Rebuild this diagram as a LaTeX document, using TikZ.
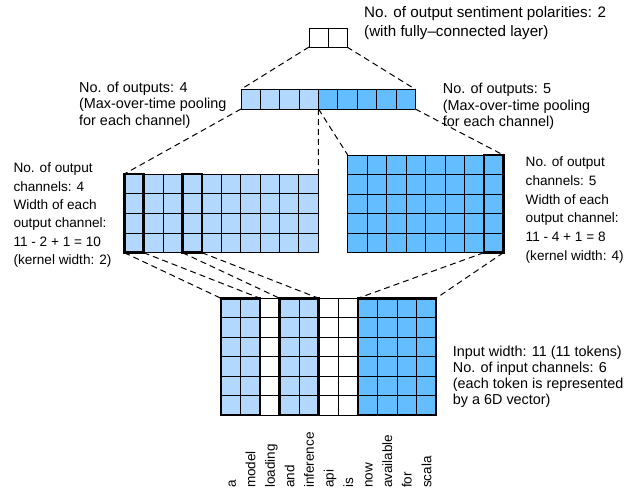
\documentclass[tikz,border=0pt]{standalone}
\usepackage{fontspec}
\setmainfont{Liberation Sans}
\definecolor{lightblue}{RGB}{178,216,254}
\definecolor{darkblue}{RGB}{100,189,255}
\begin{document}
\begin{tikzpicture}[x=1pt,y=-1pt,
  gridline/.style={line width=0.9pt},
  thickbox/.style={line width=2.6pt},
  conn/.style={line width=1pt, dash pattern=on 6pt off 4pt},
  lbl/.style={inner sep=0pt, anchor=north west, align=left},
  word/.style={font=\fontsize{13.5}{16}\selectfont, inner sep=0pt, rotate=90, anchor=base west},
]
\useasboundingbox (0,0) rectangle (626,492);

% ---------- top fully-connected box ----------
\draw[gridline] (309,28) rectangle (347,47);
\draw[gridline] (328,28) -- (328,47);
\coordinate (fcBL) at (309,47);
\coordinate (fcBR) at (347,47);

% ---------- pooling row ----------
\fill[lightblue] (241,89.3) rectangle (318.5,109);
\fill[darkblue] (318.5,89.3) rectangle (415.3,109);
\foreach \i in {0,...,9} \draw[gridline] ({241+\i*19.37},89.3) -- ({241+\i*19.37},109);
\draw[gridline] (241,89.3) -- (415.3,89.3) (241,109) -- (415.3,109);
\coordinate (poolTL) at (241,89.3);
\coordinate (poolTR) at (415.3,89.3);
\coordinate (poolBL) at (241,109);
\coordinate (poolMid) at (318.5,109);
\coordinate (poolBR) at (415.3,109);

% ---------- left conv output grid (10 x 4) ----------
\fill[lightblue] (124.3,174) rectangle (318.3,252.7);
\foreach \i in {0,...,10} \draw[gridline] ({124.3+\i*19.4},174) -- ({124.3+\i*19.4},252.7);
\foreach \j in {0,...,4} \draw[gridline] (124.3,{174+\j*19.675}) -- (318.3,{174+\j*19.675});
\draw[thickbox] (124.3,174) rectangle (143.7,252.7);
\draw[thickbox] (182.5,174) rectangle (201.9,252.7);
\coordinate (lgTL) at (124.3,174);
\coordinate (lgTR) at (318.3,174);
\coordinate (lgB1) at (124.3,252.7);
\coordinate (lgB2) at (143.7,252.7);
\coordinate (lgB3) at (182.5,252.7);
\coordinate (lgB4) at (201.9,252.7);

% ---------- right conv output grid (8 x 5) ----------
\fill[darkblue] (347.7,155) rectangle (503.3,252.7);
\foreach \i in {0,...,8} \draw[gridline] ({347.7+\i*19.45},155) -- ({347.7+\i*19.45},252.7);
\foreach \j in {0,...,5} \draw[gridline] (347.7,{155+\j*19.54}) -- (503.3,{155+\j*19.54});
\draw[thickbox] (483.85,155) rectangle (503.3,252.7);
\coordinate (rgTL) at (347.7,155);
\coordinate (rgTR) at (503.3,155);
\coordinate (rgB1) at (483.85,252.7);
\coordinate (rgB2) at (503.3,252.7);

% ---------- input grid (11 x 6) ----------
\fill[lightblue] (221,298.3) rectangle (260.1,415);
\fill[lightblue] (279.65,298.3) rectangle (318.75,415);
\fill[darkblue] (357.85,298.3) rectangle (436,415);
\foreach \i in {0,...,11} \draw[gridline] ({221+\i*19.55},298.3) -- ({221+\i*19.55},415);
\foreach \j in {0,...,6} \draw[gridline] (221,{298.3+\j*19.45}) -- (436,{298.3+\j*19.45});
\draw[thickbox] (221,298.3) rectangle (260.1,415);
\draw[thickbox] (279.65,298.3) rectangle (318.75,415);
\draw[thickbox] (357.85,298.3) rectangle (436,415);
\coordinate (in1) at (221,298.3);
\coordinate (in2) at (260.1,298.3);
\coordinate (in4) at (279.65,298.3);
\coordinate (in5) at (318.75,298.3);
\coordinate (in8) at (357.85,298.3);
\coordinate (in11) at (436,298.3);

% ---------- dashed connectors ----------
\draw[conn] (fcBL) -- (poolTL);
\draw[conn] (fcBR) -- (poolTR);
\draw[conn] (poolBL) -- (lgTL);
\draw[conn] (poolMid) -- (lgTR);
\draw[conn] (poolMid) -- (rgTL);
\draw[conn] (poolBR) -- (rgTR);
\draw[conn] (lgB1) -- (in1);
\draw[conn] (lgB2) -- (in2);
\draw[conn] (lgB3) -- (in4);
\draw[conn] (lgB4) -- (in5);
\draw[conn] (rgB1) -- (in8);
\draw[conn] (rgB2) -- (in11);

% ---------- labels ----------
\node[lbl, font=\fontsize{15.2}{19.4}\selectfont] (tFC) at (364,6.3)
  {No. of output sentiment polarities: 2\\(with fully–connected layer)};
\node[lbl, font=\fontsize{14.4}{16.5}\selectfont] (tPoolL) at (79,81.4)
  {No. of outputs: 4\\(Max-over-time pooling\\for each channel)};
\node[lbl, font=\fontsize{14.4}{16.7}\selectfont] (tPoolR) at (442.7,82.7)
  {No. of outputs: 5\\(Max-over-time pooling\\for each channel)};
\node[lbl, font=\fontsize{13.6}{18.3}\selectfont] (tConvL) at (13.3,162.8)
  {No. of output\\channels: 4\\Width of each\\output channel:\\11 - 2 + 1 = 10\\(kernel width: 2)};
\node[lbl, font=\fontsize{13.6}{18.7}\selectfont] (tConvR) at (525.5,156.8)
  {No. of output\\channels: 5\\Width of each\\output channel:\\11 - 4 + 1 = 8\\(kernel width: 4)};
\node[lbl, font=\fontsize{14.4}{16}\selectfont] (tIn) at (452.7,345.4)
  {Input width: 11 (11 tokens)\\No. of input channels: 6\\(each token is represented\\by a 6D vector)};

% ---------- token words ----------
\foreach \w [count=\k] in {a,model,loading,and,inference,api,is,now,available,for,scala}
  \node[word] (w\k) at ({221+(\k-0.5)*19.55+5},488) {\w};
\end{tikzpicture}
\end{document}
